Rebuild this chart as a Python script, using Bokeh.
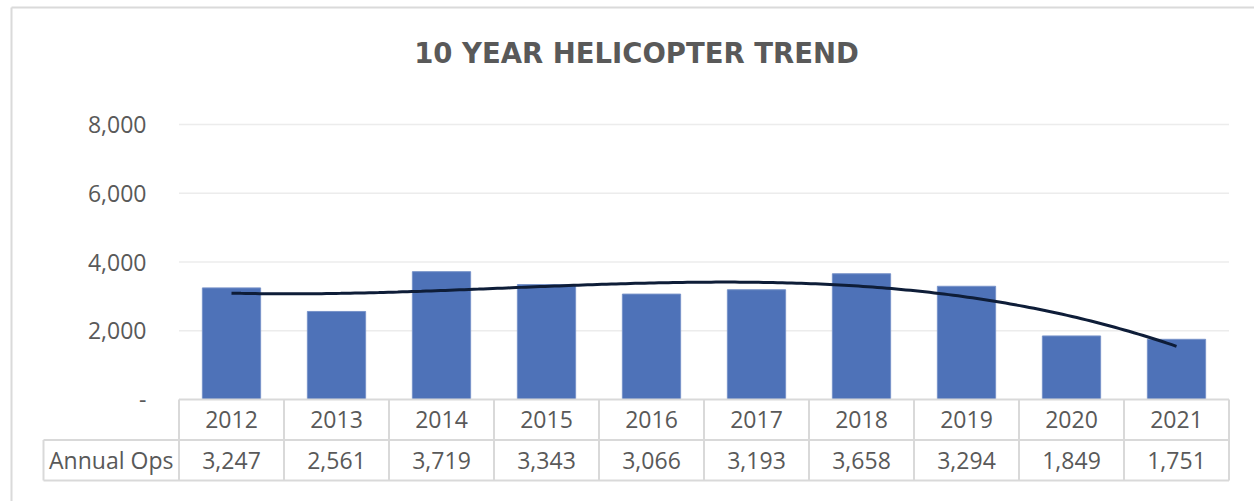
import numpy as np
from bokeh.plotting import figure
from bokeh.models import Range1d, ColumnDataSource
from bokeh.embed import file_html
from bokeh.resources import INLINE
from bokeh.core.properties import value

# ---------------- data ----------------
years = ["2012", "2013", "2014", "2015", "2016", "2017", "2018", "2019", "2020", "2021"]
annual_ops = [3247, 2561, 3719, 3343, 3066, 3193, 3658, 3294, 1849, 1751]
y_ticks = [0, 2000, 4000, 6000, 8000]
y_tick_labels = ["-", "2,000", "4,000", "6,000", "8,000"]
row_label = "Annual Ops"
title_text = "10 YEAR HELICOPTER TREND"

# ---------------- geometry (pixels, canvas coordinates) ----------------
W, H = 1254, 501
CAT0_X = 231              # x of first category centre
CAT_W = 105               # px per category
ZERO_Y = 399              # y of value 0
PX_PER_2000 = 68.75
ROW_H = 40.5              # table row height px

ppu = PX_PER_2000 / 2000.0
x_start = (0 - CAT0_X) / CAT_W
x_end = (W - CAT0_X) / CAT_W
y_end = ZERO_Y / ppu
y_start = -(H - ZERO_Y) / ppu


def px_x(cx):
    return (cx - CAT0_X) / CAT_W


def px_y(cy):
    return (ZERO_Y - cy) / ppu


TEXT = "#595959"
GRID = "#ECECEC"
TABLE = "#D9D9D9"
FONT = value("Open Sans")

p = figure(width=W, height=H, output_backend="svg", toolbar_location=None,
           x_range=Range1d(x_start, x_end), y_range=Range1d(y_start, y_end),
           x_axis_type=None, y_axis_type=None, min_border=0)
p.outline_line_color = None
p.grid.visible = False
p.background_fill_color = "white"
p.border_fill_color = "white"

# chart-area border (left and top)
p.segment(x0=[px_x(11), px_x(11)], x1=[px_x(11), px_x(W)],
          y0=[px_y(7), px_y(7)], y1=[px_y(H), px_y(7)],
          line_color="#DADADA", line_width=2)

# title
p.text(x=[px_x(636)], y=[px_y(52)], text=[title_text], text_align="center",
       text_baseline="middle", text_font=value("DejaVu Sans"),
       text_font_style="bold", text_font_size="27.5px", text_color=TEXT)

idx = list(range(len(years)))
n = len(years)
src = ColumnDataSource(dict(x=idx, top=annual_ops, years=years,
                            ops=[f"{v:,}" for v in annual_ops]))

# gridlines
gt = y_ticks[1:]
p.segment(x0=[-0.5] * len(gt), x1=[n - 0.5] * len(gt), y0=gt, y1=gt,
          line_color=GRID, line_width=1.5)

# y tick labels
p.text(x=[px_x(146)] * len(y_ticks), y=y_ticks, text=y_tick_labels,
       text_align="right", text_baseline="middle", text_font=FONT,
       text_font_size="23px", text_color=TEXT)

# bars
p.vbar(x="x", top="top", width=0.555, bottom=0, source=src,
       fill_color="#4E72B8", line_color="#7893C9", line_width=1)

# polynomial trendline (order 3) fitted to the data
xs = np.arange(1, n + 1)
coef = np.polyfit(xs, annual_ops, 3)
xd = np.linspace(1, n, 200)
p.line(x=xd - 1, y=np.polyval(coef, xd), line_color="#0E1D38", line_width=3)

# data table
r1 = -ROW_H / ppu
r2 = -2 * ROW_H / ppu
left = px_x(43)
p.segment(x0=[-0.5, left, left], x1=[n - 0.5] * 3, y0=[0, r1, r2], y1=[0, r1, r2],
          line_color=TABLE, line_width=2)
vx = [k - 0.5 for k in range(n + 1)]
p.segment(x0=vx, x1=vx, y0=[0] * len(vx), y1=[r2] * len(vx),
          line_color=TABLE, line_width=2)
p.segment(x0=[left], x1=[left], y0=[r1], y1=[r2], line_color=TABLE, line_width=2)

p.text(x="x", y=r1 / 2, text="years", source=src, text_align="center",
       text_baseline="middle", text_font=FONT, text_font_size="23px", text_color=TEXT)
p.text(x="x", y=(r1 + r2) / 2, text="ops", source=src, text_align="center",
       text_baseline="middle", text_font=FONT, text_font_size="23px", text_color=TEXT)
p.text(x=[(left - 0.5) / 2], y=[(r1 + r2) / 2], text=[row_label], text_align="center",
       text_baseline="middle", text_font=FONT, text_font_size="23px", text_color=TEXT)

open("out.html", "w").write(file_html(p, INLINE))
